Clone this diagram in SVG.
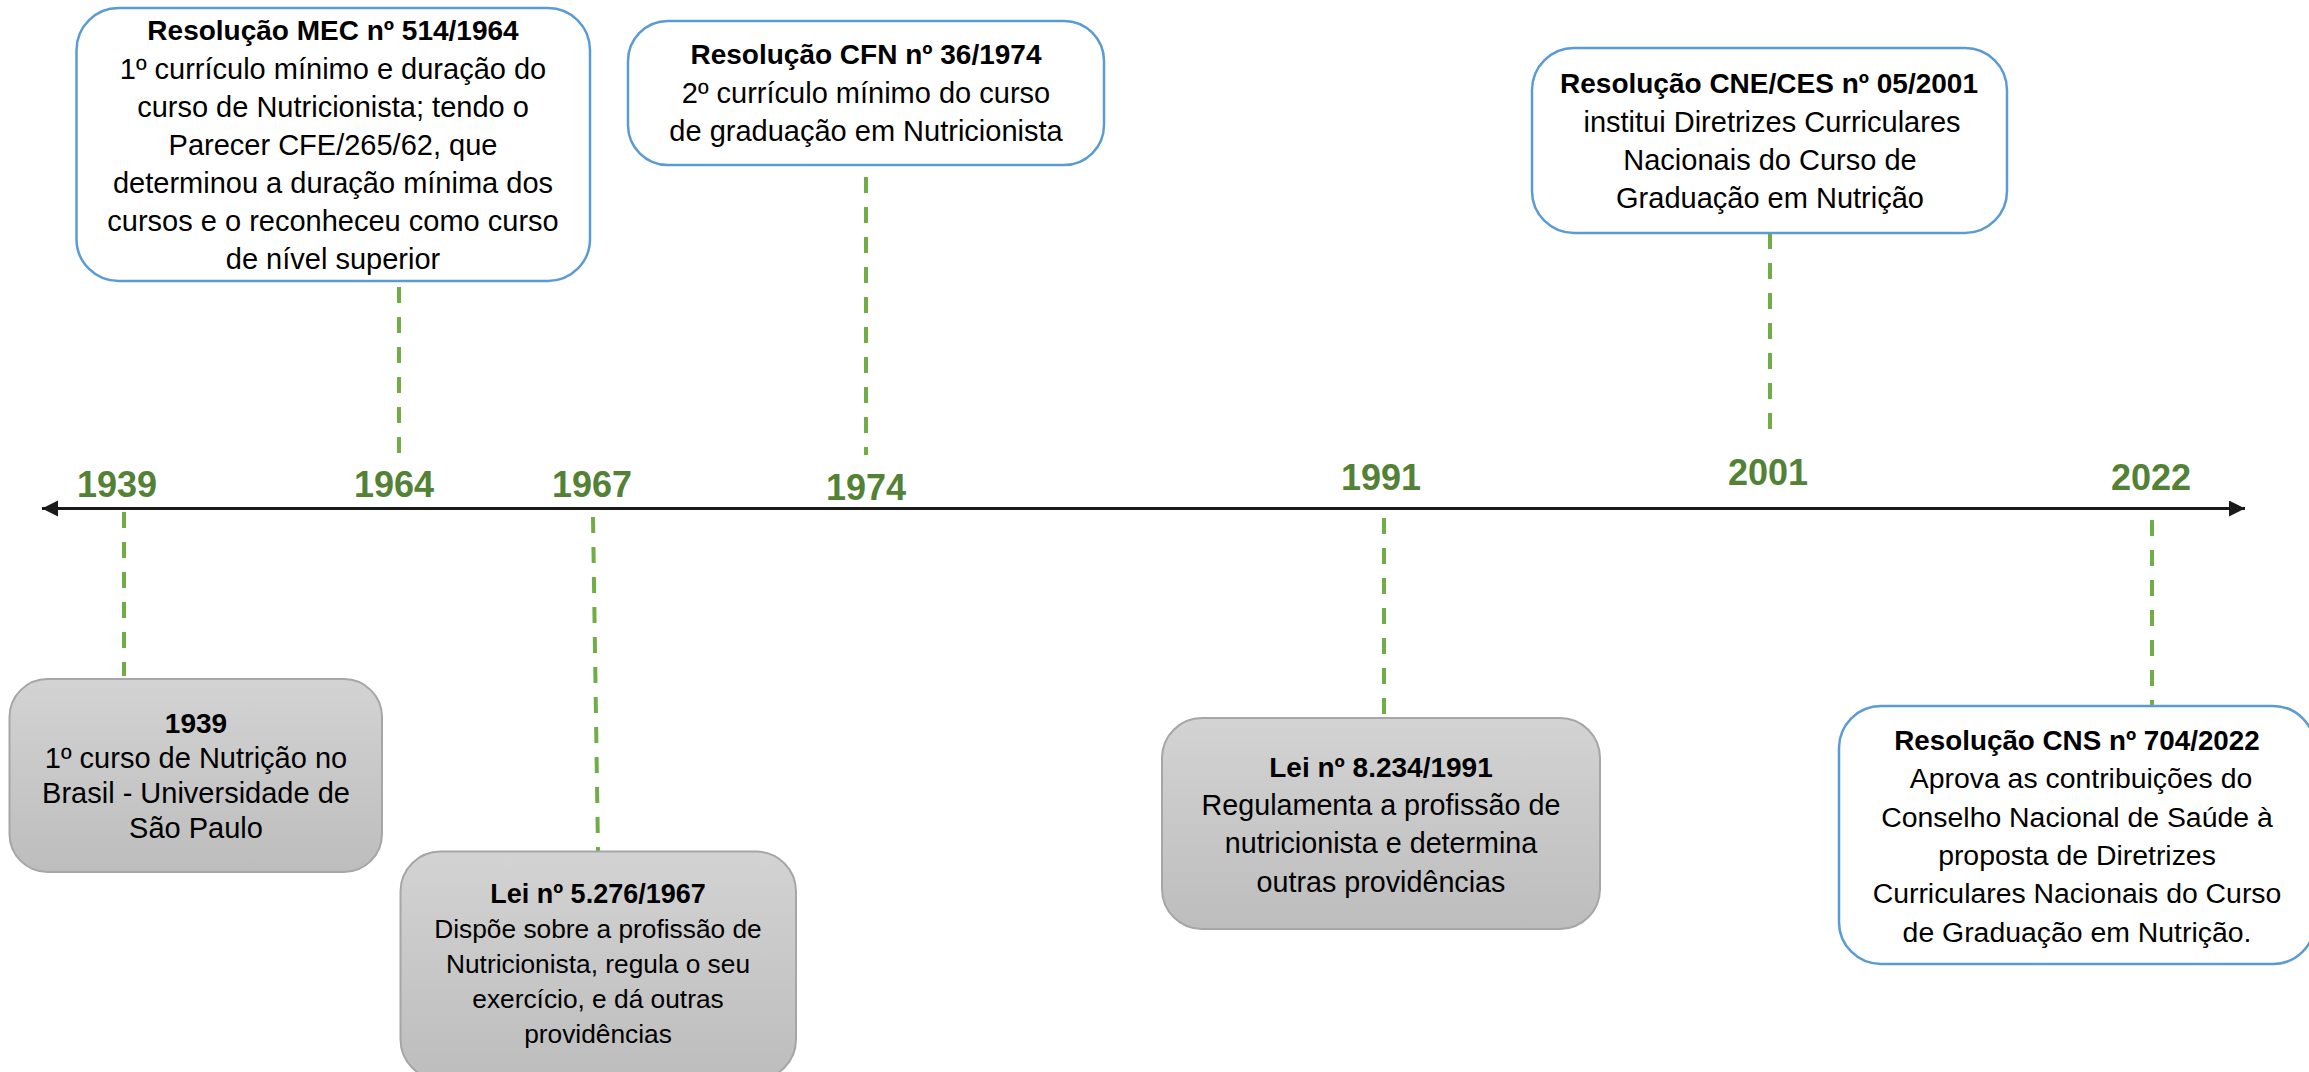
<svg xmlns="http://www.w3.org/2000/svg" width="2309" height="1072" viewBox="0 0 2309 1072">
  <defs>
    <linearGradient id="grayGrad" x1="0" y1="0" x2="0" y2="1">
      <stop offset="0" stop-color="#D3D3D3"/>
      <stop offset="1" stop-color="#BDBDBD"/>
    </linearGradient>
    <marker id="arrow" markerUnits="userSpaceOnUse" markerWidth="18" markerHeight="18" refX="16" refY="8" orient="auto-start-reverse">
      <path d="M0,0 L16,8 L0,16 Z" fill="#1A1A1A"/>
    </marker>
    <style>
      .blue { fill: #FFFFFF; stroke: #5B9BD5; stroke-width: 2.5; }
      .gray { fill: url(#grayGrad); stroke: #A6A6A6; stroke-width: 2; }
      .t { font-family: "Liberation Sans", Arial, sans-serif; fill: #000000; text-anchor: middle; }
      .b { font-weight: bold; }
      .yr { font-family: "Liberation Sans", Arial, sans-serif; font-weight: bold; font-size: 36px; fill: #538135; text-anchor: middle; }
      .dash { stroke: #70AD47; stroke-width: 4; stroke-dasharray: 16 14; fill: none; }
      .axis { stroke: #1A1A1A; stroke-width: 3; fill: none; }
    </style>
  </defs>
  <rect width="2309" height="1072" fill="#FFFFFF"/>

  <g id="connectors">
    <line class="axis" x1="42" y1="508.5" x2="2245" y2="508.5" marker-start="url(#arrow)" marker-end="url(#arrow)"/>
    <line class="dash" x1="124" y1="512" x2="124" y2="676"/>
    <line class="dash" x1="399" y1="287" x2="399" y2="466"/>
    <line class="dash" x1="593" y1="517" x2="598" y2="851"/>
    <line class="dash" x1="866" y1="177" x2="866" y2="455"/>
    <line class="dash" x1="1384" y1="518" x2="1384" y2="716"/>
    <line class="dash" x1="1770" y1="233" x2="1770" y2="442"/>
    <line class="dash" x1="2152" y1="520" x2="2152" y2="706"/>
  </g>

  <g id="years">
    <text class="yr" x="117" y="497">1939</text>
    <text class="yr" x="394" y="497">1964</text>
    <text class="yr" x="592" y="497">1967</text>
    <text class="yr" x="866" y="500">1974</text>
    <text class="yr" x="1381" y="490">1991</text>
    <text class="yr" x="1768" y="485">2001</text>
    <text class="yr" x="2151" y="490">2022</text>
  </g>

  <g id="node-mec-1964">
    <rect class="blue" x="76.5" y="8" width="513.5" height="273" rx="42" ry="42"/>
    <text class="t b" x="333" y="39.5" font-size="28">Resolução MEC nº 514/1964</text>
    <text class="t" x="333" y="79" font-size="29">1º currículo mínimo e duração do</text>
    <text class="t" x="333" y="117" font-size="29">curso de Nutricionista; tendo o</text>
    <text class="t" x="333" y="155" font-size="29">Parecer CFE/265/62, que</text>
    <text class="t" x="333" y="193" font-size="29">determinou a duração mínima dos</text>
    <text class="t" x="333" y="231" font-size="29">cursos e o reconheceu como curso</text>
    <text class="t" x="333" y="269" font-size="29">de nível superior</text>
  </g>

  <g id="node-cfn-1974">
    <rect class="blue" x="628" y="21" width="476" height="144" rx="40" ry="40"/>
    <text class="t b" x="866" y="64" font-size="28">Resolução CFN nº 36/1974</text>
    <text class="t" x="866" y="103" font-size="29">2º currículo mínimo do curso</text>
    <text class="t" x="866" y="141" font-size="29">de graduação em Nutricionista</text>
  </g>

  <g id="node-cne-2001">
    <rect class="blue" x="1532" y="48" width="475" height="185" rx="42" ry="42"/>
    <text class="t b" x="1769" y="93" font-size="28">Resolução CNE/CES nº 05/2001</text>
    <text class="t" x="1772" y="132" font-size="29">institui Diretrizes Curriculares</text>
    <text class="t" x="1770" y="170" font-size="29">Nacionais do Curso de</text>
    <text class="t" x="1770" y="208" font-size="29">Graduação em Nutrição</text>
  </g>

  <g id="node-1939">
    <rect class="gray" x="9.5" y="679" width="372.5" height="193" rx="38" ry="38"/>
    <text class="t b" x="196" y="733" font-size="28">1939</text>
    <text class="t" x="196" y="768" font-size="29">1º curso de Nutrição no</text>
    <text class="t" x="196" y="803" font-size="29">Brasil - Universidade de</text>
    <text class="t" x="196" y="838" font-size="29">São Paulo</text>
  </g>

  <g id="node-lei-1967">
    <rect class="gray" x="400.5" y="851.5" width="395.5" height="228" rx="40" ry="40"/>
    <text class="t b" x="598" y="903" font-size="27">Lei nº 5.276/1967</text>
    <text class="t" x="598" y="938" font-size="26.3">Dispõe sobre a profissão de</text>
    <text class="t" x="598" y="973" font-size="26.3">Nutricionista, regula o seu</text>
    <text class="t" x="598" y="1008" font-size="26.3">exercício, e dá outras</text>
    <text class="t" x="598" y="1043" font-size="26.3">providências</text>
  </g>

  <g id="node-lei-1991">
    <rect class="gray" x="1162" y="718" width="438" height="211" rx="40" ry="40"/>
    <text class="t b" x="1381" y="777" font-size="28">Lei nº 8.234/1991</text>
    <text class="t" x="1381" y="815" font-size="28.7">Regulamenta a profissão de</text>
    <text class="t" x="1381" y="853" font-size="28.7">nutricionista e determina</text>
    <text class="t" x="1381" y="892" font-size="28.7">outras providências</text>
  </g>

  <g id="node-cns-2022">
    <rect class="blue" x="1839" y="706" width="476" height="258" rx="42" ry="42"/>
    <text class="t b" x="2077" y="750" font-size="27.8">Resolução CNS nº 704/2022</text>
    <text class="t" x="2081" y="788" font-size="28.4">Aprova as contribuições do</text>
    <text class="t" x="2077" y="827" font-size="28.4">Conselho Nacional de Saúde à</text>
    <text class="t" x="2077" y="865" font-size="28.4">proposta de Diretrizes</text>
    <text class="t" x="2077" y="903" font-size="28.4">Curriculares Nacionais do Curso</text>
    <text class="t" x="2077" y="942" font-size="28.4">de Graduação em Nutrição.</text>
  </g>
</svg>
